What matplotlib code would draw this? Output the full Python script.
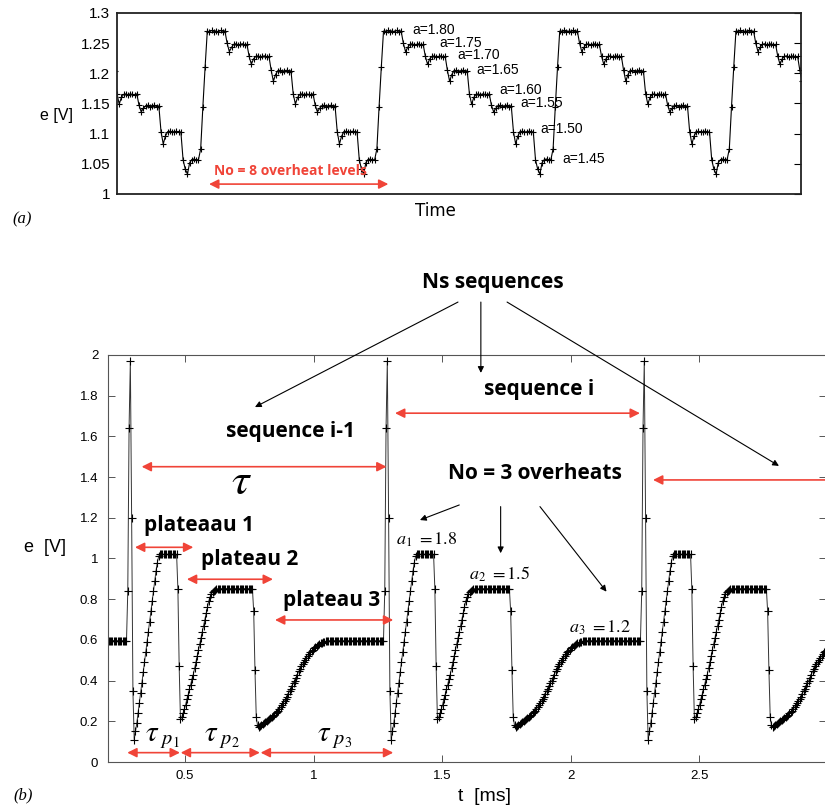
import numpy as np
import matplotlib
matplotlib.use('Agg')
import matplotlib.pyplot as plt
from matplotlib.ticker import FormatStrFormatter

plt.rcParams['font.family'] = ['Liberation Sans', 'DejaVu Sans']
plt.rcParams['mathtext.fontset'] = 'stix'

# ---------------- panel (a): No = 8 overheat levels (one sequence, 10 samples per level)
a_labels = ['a=1.80', 'a=1.75', 'a=1.70', 'a=1.65', 'a=1.60', 'a=1.55', 'a=1.50', 'a=1.45']
a_label_t = [13.39, 14.64, 15.44, 16.32, 17.36, 18.32, 19.23, 20.24]
a_label_e = [1.2712, 1.2507, 1.2302, 1.2060, 1.1717, 1.1508, 1.1076, 1.0579]
a_seq_e = [
    1.210, 1.270, 1.269, 1.271, 1.268, 1.270, 1.269, 1.271, 1.268, 1.270,   # a=1.80
    1.250, 1.236, 1.243, 1.248, 1.249, 1.247, 1.248, 1.249, 1.247, 1.248,   # a=1.75
    1.228, 1.215, 1.224, 1.228, 1.229, 1.227, 1.228, 1.229, 1.227, 1.228,   # a=1.70
    1.205, 1.187, 1.198, 1.204, 1.205, 1.203, 1.204, 1.205, 1.203, 1.204,   # a=1.65
    1.166, 1.149, 1.160, 1.165, 1.166, 1.164, 1.166, 1.165, 1.164, 1.166,   # a=1.60
    1.147, 1.136, 1.142, 1.146, 1.147, 1.145, 1.146, 1.147, 1.145, 1.146,   # a=1.55
    1.103, 1.083, 1.096, 1.103, 1.104, 1.102, 1.103, 1.104, 1.102, 1.103,   # a=1.50
    1.057, 1.041, 1.033, 1.052, 1.057, 1.058, 1.056, 1.057, 1.075, 1.145,   # a=1.45
]
a_dt = 0.1
a_period = 8.0
a_start = 4.0
a_xlim = (0, 31.05)

# ---------------- panel (b): No = 3 overheats (one sequence, dt = 0.005 ms)
b_seq_e = (
    [1.97, 1.20, 0.35]
    + [0.11, 0.15, 0.19, 0.24, 0.29, 0.34, 0.39, 0.44, 0.49, 0.54,
       0.59, 0.64, 0.69, 0.74, 0.79, 0.84, 0.89, 0.94, 0.98, 1.01]
    + [1.02] * 14                                   # plateau 1
    + [0.85, 0.47, 0.21]
    + [0.22, 0.24, 0.26, 0.28, 0.31, 0.33, 0.36, 0.38, 0.41, 0.43,
       0.46, 0.49, 0.52, 0.55, 0.58, 0.61, 0.64, 0.67, 0.70, 0.73,
       0.76, 0.79, 0.81, 0.825, 0.835, 0.84, 0.845, 0.85]
    + [0.852] * 28                                  # plateau 2
    + [0.74, 0.45, 0.22, 0.18, 0.17]
    + [0.175, 0.18, 0.185, 0.19, 0.195, 0.20, 0.205, 0.21, 0.215, 0.22,
       0.225, 0.23, 0.24, 0.245, 0.25, 0.26, 0.27, 0.28, 0.29, 0.30,
       0.31, 0.32, 0.335, 0.35, 0.36, 0.375, 0.39, 0.40, 0.415, 0.43,
       0.445, 0.455, 0.47, 0.48, 0.49, 0.50, 0.51, 0.52, 0.53, 0.54,
       0.545, 0.55, 0.56, 0.565, 0.57, 0.575, 0.58, 0.583, 0.586, 0.589,
       0.591, 0.593, 0.594, 0.595, 0.596]
    + [0.596] * 42                                  # plateau 3
    + [0.84, 1.64]
)
b_dt = 0.005
b_period = 1.0
b_peak = 0.287
b_xlim = (0.2, 2.996)
b_xticks = [0.5, 1, 1.5, 2, 2.5]
b_yticks = [0, 0.2, 0.4, 0.6, 0.8, 1, 1.2, 1.4, 1.6, 1.8, 2]

RED = '#f04438'


def tile(seq, dt, period, t0, n_from, n_to, lim):
    k = np.arange(len(seq)) * dt
    t = np.concatenate([t0 + n * period + k for n in range(n_from, n_to)])
    e = np.tile(seq, n_to - n_from)
    keep = (t >= lim[0] - dt) & (t <= lim[1] + dt)
    return t[keep], e[keep]


def darrow(ax, x0, x1, y, both=True):
    ax.annotate('', xy=(x1, y), xytext=(x0, y), annotation_clip=False,
                arrowprops=dict(arrowstyle='<|-|>' if both else '<|-', color=RED,
                                lw=1.2, mutation_scale=14, shrinkA=0, shrinkB=0))


def karrow(ax, x0, y0, x1, y1):
    ax.annotate('', xy=(x1, y1), xytext=(x0, y0), annotation_clip=False,
                arrowprops=dict(arrowstyle='-|>', color='black', lw=0.8,
                                mutation_scale=9, shrinkA=0, shrinkB=0))


fig = plt.figure(figsize=(8.25, 8.11), dpi=100)

# ---------------- (a)
axa = fig.add_axes([0.1418, 0.7608, 0.829, 0.2232])
ta, ea = tile(a_seq_e, a_dt, a_period, a_start, -1, 4, a_xlim)
axa.plot(ta, ea, color='black', lw=0.8, marker='+', ms=5, mew=0.8)
axa.set_xlim(*a_xlim)
axa.set_ylim(1.0, 1.3)
axa.set_xticks([])
axa.set_yticks([1, 1.05, 1.1, 1.15, 1.2, 1.25, 1.3])
axa.yaxis.set_major_formatter(FormatStrFormatter('%g'))
axa.tick_params(axis='y', left=False, right=True, direction='in', length=5,
                labelsize=11, pad=5)
for s in axa.spines.values():
    s.set_linewidth(1.3)
    s.set_color('#222222')
for lab, tx, ty in zip(a_labels, a_label_t, a_label_e):
    axa.text(tx, ty, lab, fontsize=10, ha='left', va='center')
darrow(axa, 4.18, 12.32, 1.0164)
axa.text(7.86, 1.0373, 'No = 8 overheat levels', color=RED, fontsize=10,
         fontweight='bold', family=['Open Sans', 'DejaVu Sans'], ha='center', va='center')
fig.text(0.0679, 0.858, 'e [V]', fontsize=11.5, ha='center', va='center')
fig.text(0.528, 0.740, 'Time', fontsize=12, family=['DejaVu Sans'], ha='center', va='center')
fig.text(0.027, 0.730, '(a)', fontsize=12, family=['Liberation Serif'], style='italic',
         ha='center', va='center')

# ---------------- (b)
axb = fig.add_axes([0.1309, 0.0604, 0.8709, 0.5019])
tb, eb = tile(b_seq_e, b_dt, b_period, b_peak, -1, 3, b_xlim)
axb.plot(tb, eb, color='#333333', lw=0.7, marker='+', ms=6, mew=0.8, mec='black')
axb.set_xlim(*b_xlim)
axb.set_ylim(0, 2)
axb.set_xticks(b_xticks)
axb.set_yticks(b_yticks)
axb.xaxis.set_major_formatter(FormatStrFormatter('%g'))
axb.yaxis.set_major_formatter(FormatStrFormatter('%g'))
axb.tick_params(direction='in', top=True, right=True, length=5, width=0.7,
                labelsize=9.5, color='#555555')
axb.tick_params(axis='y', pad=7)
axb.tick_params(axis='x', pad=6)
for s in axb.spines.values():
    s.set_linewidth(0.8)
    s.set_color('#555555')

bold = dict(fontweight='bold', family=['Open Sans', 'DejaVu Sans'], ha='center', va='center')
axb.text(1.698, 2.354, 'Ns sequences', fontsize=15, clip_on=False, **bold)
karrow(axb, 1.562, 2.26, 0.772, 1.744)
karrow(axb, 1.651, 2.26, 1.651, 1.912)
karrow(axb, 1.753, 2.26, 2.811, 1.455)
axb.text(0.912, 1.622, 'sequence i-1', fontsize=15, **bold)
darrow(axb, 0.331, 1.284, 1.451)
axb.text(0.721, 1.371, r'$\tau$', fontsize=32, ha='center', va='center')
axb.text(1.877, 1.828, 'sequence i', fontsize=15, **bold)
darrow(axb, 1.317, 2.270, 1.714)
darrow(axb, 2.321, 3.05, 1.386, both=False)
axb.text(1.863, 1.420, 'No = 3 overheats', fontsize=15, **bold)
karrow(axb, 1.567, 1.263, 1.414, 1.189)
karrow(axb, 1.728, 1.255, 1.728, 1.026)
karrow(axb, 1.881, 1.255, 2.140, 0.837)
axb.text(1.440, 1.091, r'$a_1\ =1.8$', fontsize=13, ha='center', va='center')
axb.text(1.725, 0.924, r'$a_2\ =1.5$', fontsize=13, ha='center', va='center')
axb.text(2.114, 0.658, r'$a_3\ =1.2$', fontsize=13, ha='center', va='center')
axb.text(0.553, 1.160, 'plateaau 1', fontsize=15, **bold)
darrow(axb, 0.305, 0.532, 1.055)
axb.text(0.753, 0.993, 'plateau 2', fontsize=15, **bold)
darrow(axb, 0.507, 0.842, 0.898)
axb.text(1.070, 0.796, 'plateau 3', fontsize=15, **bold)
darrow(axb, 0.850, 1.310, 0.698)
darrow(axb, 0.275, 0.480, 0.046)
darrow(axb, 0.483, 0.791, 0.046)
darrow(axb, 0.794, 1.310, 0.046)
axb.text(0.410, 0.123, r'$\tau_{\ p_1}$', fontsize=21, ha='center', va='center')
axb.text(0.642, 0.123, r'$\tau_{\ p_2}$', fontsize=21, ha='center', va='center')
axb.text(1.083, 0.123, r'$\tau_{\ p_3}$', fontsize=21, ha='center', va='center')

fig.text(0.0545, 0.3243, 'e  [V]', fontsize=13, ha='center', va='center')
fig.text(0.587, 0.0173, 't  [ms]', fontsize=14, ha='center', va='center')
fig.text(0.028, 0.0197, '(b)', fontsize=12, family=['Liberation Serif'], style='italic',
         ha='center', va='center')

fig.savefig('out.png', dpi=100)
